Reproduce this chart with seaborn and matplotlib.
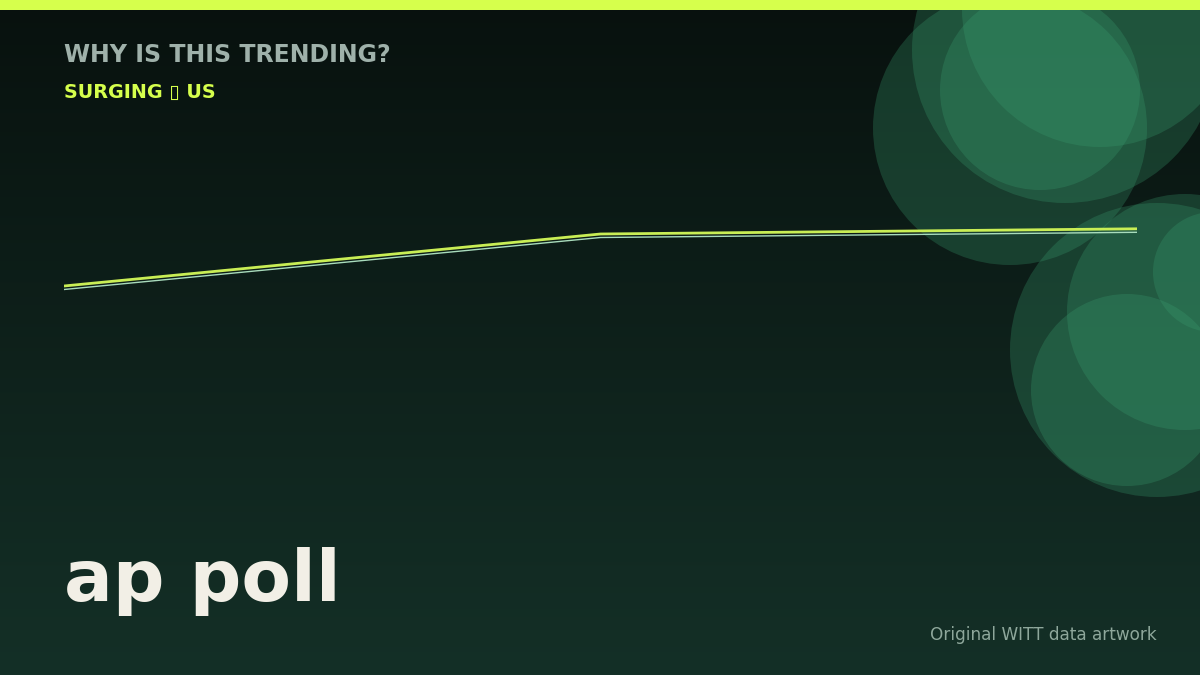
import numpy as np
import pandas as pd
import matplotlib
matplotlib.use("Agg")
import matplotlib.pyplot as plt
import matplotlib.transforms as mtransforms
from matplotlib.patches import Circle, Rectangle
import seaborn as sns

# chart data
periods = ["Start", "Mid", "Now"]
interest = [58.5, 71.5, 72.8]

title = "WHY IS THIS TRENDING?"
subtitle = "SURGING \u25AF US"
topic = "ap poll"
credit = "Original WITT data artwork"

# decorative bubbles (x, y, radius) in pixels from top-left
bubbles_x = [1010, 1065, 1040, 1100, 1157, 1185, 1127, 1213]
bubbles_y = [128, 50, 90, 9, 350, 312, 390, 272]
bubbles_r = [137, 153, 100, 138, 147, 118, 96, 60]

df = pd.DataFrame({"period": periods, "interest": interest})
df["step"] = range(len(df))

sns.set_theme(style="white")
plt.rcParams["font.family"] = ["DejaVu Sans"]

W, H = 1200, 675
fig = plt.figure(figsize=(12, 6.75), dpi=100)

# background gradient + bubbles
bg = fig.add_axes([0, 0, 1, 1])
top = np.array([0x08, 0x11, 0x0e]) / 255
bot = np.array([0x14, 0x30, 0x27]) / 255
t = np.linspace(0, 1, 256)[:, None]
grad = (top * (1 - t) + bot * t)[:, None, :].repeat(2, axis=1)
bg.imshow(grad, extent=[0, W, H, 0], aspect="auto")
for cx, cy, r in zip(bubbles_x, bubbles_y, bubbles_r):
    bg.add_patch(Circle((cx, cy), r, color="#3a9e70", alpha=0.28, lw=0))
bg.add_patch(Rectangle((0, 0), W, 10, color="#d6ff4c", lw=0))
bg.set_xlim(0, W)
bg.set_ylim(H, 0)
bg.axis("off")

# trend line with offset echo underneath
ax = fig.add_axes([64 / W, 155 / H, (1137 - 64) / W, 400 / H])
ax.patch.set_alpha(0)
shadow = mtransforms.offset_copy(ax.transData, fig=fig, x=0, y=-3.5, units="dots")
sns.lineplot(data=df, x="step", y="interest", ax=ax, color="#a9dcbc",
             linewidth=1.0, transform=shadow)
sns.lineplot(data=df, x="step", y="interest", ax=ax, color="#c9ee55",
             linewidth=2.0)
ax.set_xlim(0, len(df) - 1)
ax.set_ylim(0, 100)
ax.axis("off")

fig.text(64 / W, 1 - 62 / H, title, fontsize=17, fontweight="bold",
         color="#9fb1aa")
fig.text(64 / W, 1 - 98 / H, subtitle, fontsize=13.8, fontweight="bold",
         color="#d6ff4c")
fig.text(64 / W, 1 - 601 / H, topic, fontsize=52, fontweight="bold",
         color="#f2efe6")
fig.text(1157 / W, 1 - 640 / H, credit, fontsize=12.2, color="#8ea79b",
         ha="right")

fig.savefig("out.png", dpi=100)
